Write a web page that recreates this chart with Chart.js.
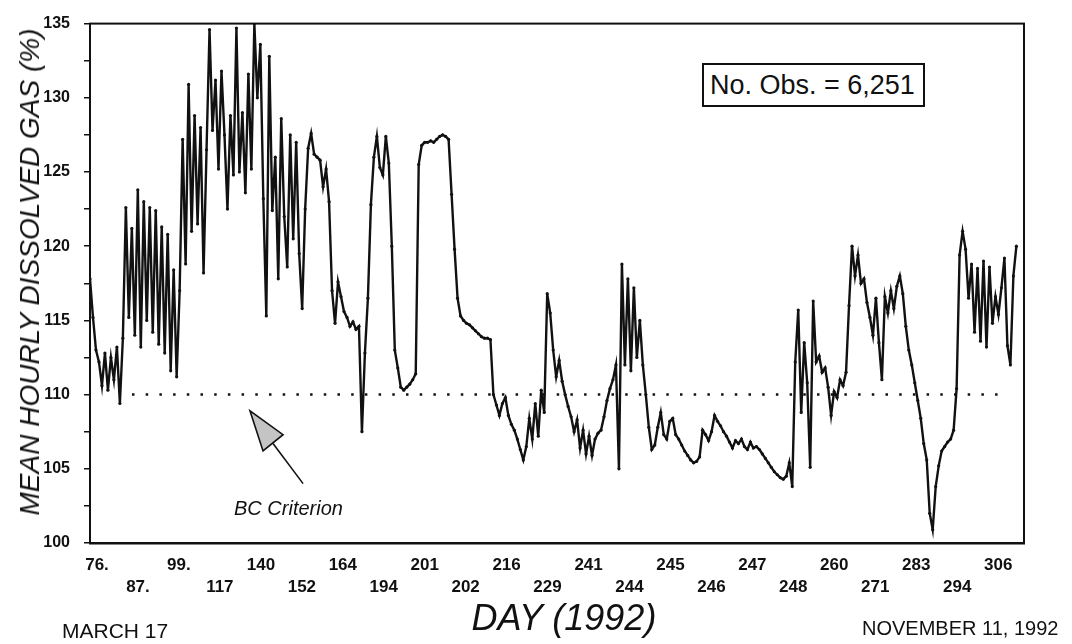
<!DOCTYPE html>
<html>
<head>
<meta charset="utf-8">
<script src="https://cdn.jsdelivr.net/npm/chart.js@4.4.1/dist/chart.umd.min.js"></script>
<style>
body { margin: 0; background: #fff; }
#wrap { position: relative; width: 1072px; height: 644px; font-family: "Liberation Sans", Arial, sans-serif; color: #111; }
#chart { position: absolute; left: 0; top: 0; }
.lbl { position: absolute; white-space: nowrap; line-height: 1; }
#ytitle { left: 30px; top: 272px; font-size: 28px; font-style: italic; transform: translate(-50%, -50%) rotate(-90deg); }
#xtitle { left: 564px; top: 618px; font-size: 36px; font-style: italic; transform: translate(-50%, -50%); }
#start { left: 62px; top: 630px; font-size: 21px; transform: translateY(-50%); }
#end { left: 862px; top: 628px; font-size: 20px; transform: translateY(-50%); }
#bc { left: 234px; top: 508px; font-size: 20px; font-style: italic; transform: translateY(-50%); }
#nobs { left: 702px; top: 63px; width: 213px; height: 40px; border: 2px solid #111; font-size: 27px; padding-left: 6px; display: flex; align-items: center; background: #fff; }
</style>
</head>
<body>
<div id="wrap">
  <canvas id="chart" width="1072" height="644"></canvas>
  <div class="lbl" id="ytitle">MEAN HOURLY DISSOLVED GAS (%)</div>
  <div class="lbl" id="xtitle">DAY (1992)</div>
  <div class="lbl" id="start">MARCH 17</div>
  <div class="lbl" id="end">NOVEMBER 11, 1992</div>
  <div class="lbl" id="bc">BC Criterion</div>
  <div class="lbl" id="nobs">No. Obs. = 6,251</div>
</div>
<script>
// hourly observations, one value read every 20 obs
const obsStep = 20;
const totalObs = 6251;
const gasPct = [
  117.8, 115.2, 113.0, 112.2, 110.6, 112.8, 110.3, 112.5, 111.0, 113.2, 109.4, 113.8,
  122.6, 115.2, 121.2, 114.0, 123.8, 113.2, 123.0, 115.0, 122.6, 114.2, 122.4, 113.4,
  121.3, 112.8, 120.8, 111.6, 118.4, 111.2, 117.0,
  127.2, 118.8, 130.9, 121.0, 128.8, 121.5, 128.0, 118.2, 126.5,
  134.6, 127.8, 131.2, 125.2, 131.8, 127.5, 122.5, 128.8, 124.8, 134.7, 125.0,
  129.0, 123.6, 131.6, 125.2, 135.0, 130.0, 133.6, 123.2, 115.3, 132.8,
  122.4, 126.0, 117.8, 128.6, 122.0, 118.6, 127.5, 120.5, 127.0, 119.5,
  115.8, 122.5, 126.6, 127.6, 126.2, 126.0, 125.8, 124.0, 125.2, 123.0,
  117.0, 114.8, 117.6, 116.6, 115.6, 115.2, 114.6, 114.9, 114.4, 114.6, 107.5,
  112.8, 116.5, 122.8, 126.0, 127.4, 125.3, 124.8, 127.4, 125.6, 120.0,
  113.0, 111.8, 110.5, 110.3, 110.5, 110.7, 111.0, 111.4,
  125.5, 126.8, 127.0, 127.0, 127.1, 127.0, 127.2, 127.4, 127.5, 127.4, 127.2,
  123.5, 119.8, 116.5, 115.3,
  115.0, 114.8, 114.7, 114.5, 114.3, 114.1, 113.9, 113.8, 113.8, 113.7,
  110.0, 109.3, 108.6, 109.4, 109.8, 108.6, 108.0, 107.6, 107.0, 106.3, 105.6, 106.5,
  108.4, 107.0, 109.4, 107.2, 110.3, 108.8, 116.8,
  115.5, 113.0, 111.2, 112.3, 110.9, 110.0, 109.2, 108.5, 107.5, 108.3,
  106.4, 107.6, 106.0, 107.2, 105.9, 107.0, 107.4, 107.6, 108.5, 109.6, 110.4, 111.0, 112.0,
  105.0, 118.8, 112.0, 117.8, 111.6, 117.2, 112.5, 115.0, 112.0, 110.0,
  107.8, 106.3, 106.6, 107.8, 108.8, 107.3, 107.0, 108.2, 108.4, 107.3, 107.0, 106.6,
  106.2, 105.9, 105.6, 105.4, 105.5, 105.8, 107.6,
  107.3, 106.9, 107.5, 108.6, 108.2, 107.9, 107.5, 107.2, 106.8, 106.4, 106.9, 106.7,
  107.0, 106.5, 106.3, 106.8, 106.4, 106.5, 106.3, 106.0, 105.7, 105.4, 105.1, 104.8,
  104.6, 104.4, 104.3, 104.5, 105.4, 103.8,
  112.2, 115.7, 108.8, 113.5, 110.8, 105.1, 116.3, 112.2, 112.6, 111.5, 111.8, 110.5,
  108.6, 110.2, 109.8, 111.0, 110.6, 111.5, 116.0, 120.0,
  118.0, 119.4, 117.5, 117.8, 116.2, 115.2, 114.0, 116.5,
  113.5, 111.0, 116.6, 115.5, 117.0, 115.8, 117.3, 118.0, 116.8, 114.6,
  113.0, 112.0, 110.8, 109.6, 108.4, 106.7, 105.6, 102.0, 100.9, 103.8, 105.2, 106.2,
  106.5, 106.8, 107.0, 107.6, 110.4,
  119.4, 121.0, 119.8, 116.5, 118.8, 114.2, 118.5, 113.6, 119.0, 113.2, 118.6, 114.8,
  116.6, 115.4, 117.2, 119.2, 113.3, 112.0, 118.0, 120.0
];

// day labels under the axis, alternating top row / bottom row
const dayLabels = ['76.', '87.', '99.', '117', '140', '152', '164', '194', '201', '202', '216', '229',
                   '241', '244', '245', '246', '247', '248', '260', '271', '283', '294', '306'];
const tickObs = [47, 321, 595, 869, 1144, 1418, 1692, 1966, 2240, 2514, 2788, 3062,
                 3337, 3611, 3885, 4159, 4433, 4707, 4981, 5255, 5530, 5804, 6078];

const criterion = 110;
const criterionSpan = [281, 6144];

// arrow pointing at the criterion line (obs, %)
const arrowHead = [[1071, 108.9], [1158, 106.2], [1292, 107.3]];
const arrowTail = [[1225, 106.7], [1426, 104.0]];

const series = gasPct.map((v, i) => ({ x: i * obsStep, y: v }));

const framePlugin = {
    id: 'frame',
    afterDraw(chart) {
        const ctx = chart.ctx;
        const a = chart.chartArea;
        const xs = chart.scales.x, ys = chart.scales.y;
        ctx.save();
        ctx.strokeStyle = '#111';
        ctx.lineWidth = 2;
        ctx.strokeRect(a.left, a.top, a.right - a.left, a.bottom - a.top);

        // arrow
        ctx.lineWidth = 1.6;
        ctx.beginPath();
        ctx.moveTo(xs.getPixelForValue(arrowTail[0][0]), ys.getPixelForValue(arrowTail[0][1]));
        ctx.lineTo(xs.getPixelForValue(arrowTail[1][0]), ys.getPixelForValue(arrowTail[1][1]));
        ctx.stroke();
        ctx.beginPath();
        arrowHead.forEach((p, i) => {
            const px = xs.getPixelForValue(p[0]), py = ys.getPixelForValue(p[1]);
            if (i === 0) ctx.moveTo(px, py); else ctx.lineTo(px, py);
        });
        ctx.closePath();
        ctx.fillStyle = '#c4c4c4';
        ctx.fill();
        ctx.stroke();
        ctx.restore();
    }
};

new Chart(document.getElementById('chart'), {
    type: 'line',
    data: {
        datasets: [{
            data: series,
            borderColor: '#111',
            backgroundColor: '#111',
            borderWidth: 2.4,
            pointRadius: 1.6,
            pointBorderWidth: 0,
            tension: 0
        }, {
            data: [{ x: criterionSpan[0], y: criterion }, { x: criterionSpan[1], y: criterion }],
            borderColor: '#111',
            borderWidth: 2.5,
            borderDash: [2.5, 11.2],
            pointRadius: 0
        }]
    },
    options: {
        responsive: false,
        animation: false,
        layout: { padding: { left: 0, right: 48, top: 16, bottom: 0 } },
        plugins: { legend: { display: false }, tooltip: { enabled: false } },
        scales: {
            x: {
                type: 'linear',
                min: 0,
                max: totalObs,
                afterFit: (scale) => { scale.height = 101; },
                afterBuildTicks: (scale) => { scale.ticks = tickObs.map(v => ({ value: v })); },
                grid: { display: false, drawTicks: false },
                border: { display: true, color: '#111', width: 2.5 },
                ticks: {
                    autoSkip: false,
                    maxRotation: 0,
                    padding: 11,
                    color: '#111',
                    font: { family: 'Liberation Sans', size: 17, weight: 'bold', lineHeight: 1.3 },
                    callback: (value, index) => index % 2 === 0 ? dayLabels[index] : ['', dayLabels[index]]
                }
            },
            y: {
                min: 100,
                max: 135,
                afterFit: (scale) => { scale.width = 90; },
                grid: { display: true, drawOnChartArea: false, drawTicks: true, tickLength: 6, color: '#111', lineWidth: 1.5 },
                border: { display: true, color: '#111', width: 2 },
                ticks: {
                    stepSize: 2.5,
                    padding: 14,
                    color: '#111',
                    font: { family: 'Liberation Sans', size: 16, weight: 'bold' },
                    callback: (value) => value % 5 === 0 ? value : ''
                }
            }
        }
    },
    plugins: [framePlugin]
});
</script>
</body>
</html>
